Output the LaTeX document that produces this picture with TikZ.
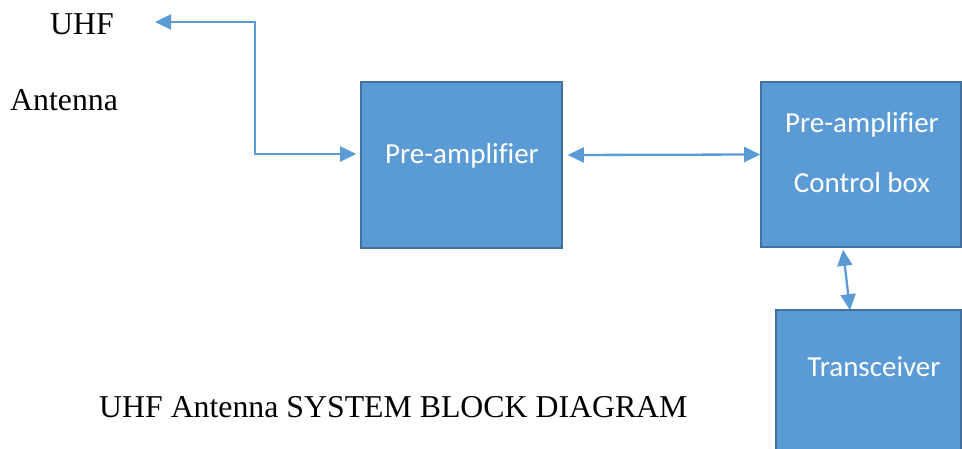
\documentclass[tikz,border=0pt]{standalone}
\usepackage{fontspec}
\setmainfont{Liberation Serif}
\newfontfamily\boxfont[Ligatures=NoCommon]{Carlito}
\usetikzlibrary{arrows.meta}
\definecolor{blkfill}{HTML}{5B9BD5}
\definecolor{blkline}{HTML}{41719C}
\tikzset{
  blkbox/.style={draw=blkline, fill=blkfill, line width=1.6pt, inner sep=0pt},
  blktext/.style={anchor=base, inner sep=0pt, text=white, font=\boxfont\fontsize{29}{34}\selectfont},
  plaintext/.style={anchor=base west, inner sep=0pt, font=\fontsize{31.8}{38}\selectfont},
  link/.style={draw=blkfill, line width=2.3pt, {Triangle[length=16pt,width=15pt]}-{Triangle[length=16pt,width=15pt]}}
}
\begin{document}
\begin{tikzpicture}[x=1pt,y=-1pt]
\useasboundingbox (0,0) rectangle (962,449);
\clip (0,0) rectangle (962,449);
\node[blkbox, minimum width=201pt, minimum height=166pt] (pre)   at (461.5,165)  {};
\node[blkbox, minimum width=200pt, minimum height=165pt] (ctrl)  at (861,164.5)  {};
\node[blkbox, minimum width=185pt, minimum height=170pt] (trans) at (868.5,395)  {};
\node[blktext] (pretext)   at (462,164) {Pre-amplifier};
\node[blktext] (ctrltexta) at (862,133) {Pre-amplifier};
\node[blktext] (ctrltextb) at (862,193) {Control box};
\node[blktext] (transtext) at (874,377) {Transceiver};
\node[plaintext] (uhf)   at (50,35)   {UHF};
\node[plaintext] (ant)   at (10,111)  {Antenna};
\node[plaintext] (title) at (99,417)  {UHF Antenna SYSTEM BLOCK DIAGRAM};
\coordinate (uhfend) at (155,22);
\coordinate (bend)   at (255,22);
\draw[link] (uhfend) -- (bend) |- ([xshift=-4pt,yshift=11pt]pre.west);
\draw[link] ([xshift=5pt,yshift=10pt]pre.east) -- ([yshift=10pt]ctrl.west);
\draw[link] ([xshift=-18pt,yshift=-2pt]ctrl.south) -- ([xshift=-18.5pt,yshift=-1pt]trans.north);
\end{tikzpicture}
\end{document}
